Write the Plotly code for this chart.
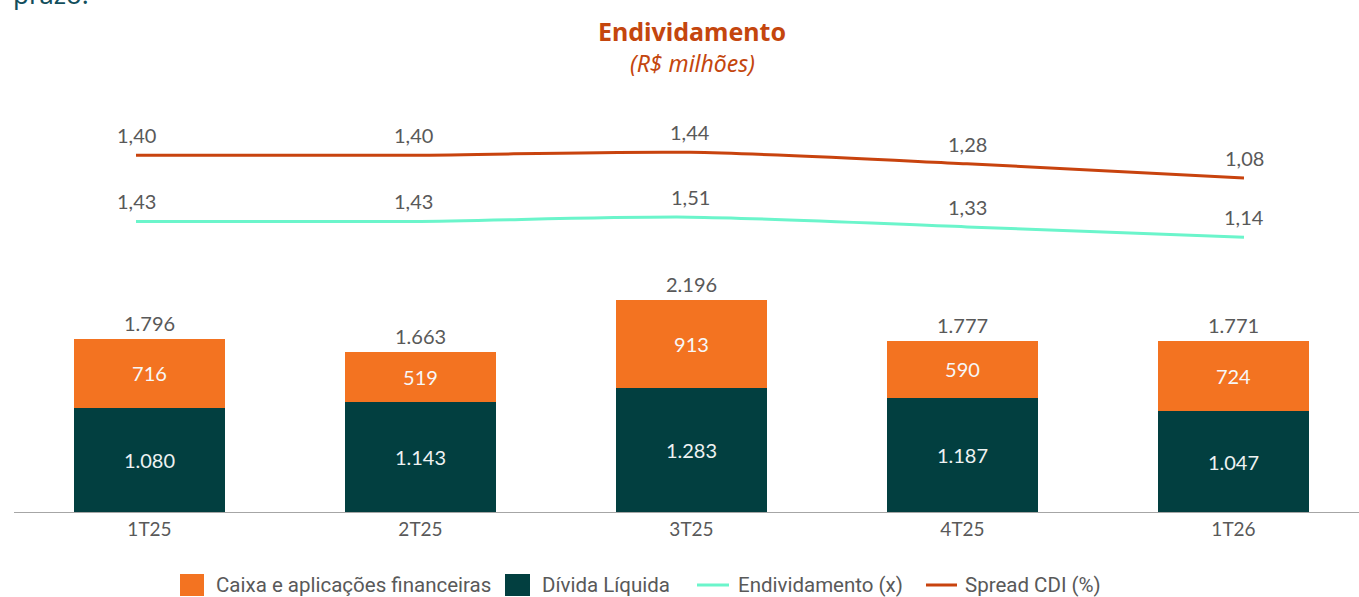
import plotly.graph_objects as go

# ---- data ----
categories = ["1T25", "2T25", "3T25", "4T25", "1T26"]
caixa = [716, 519, 913, 590, 724]
divida_liquida = [1080, 1143, 1283, 1187, 1047]
totais = [1796, 1663, 2196, 1777, 1771]
endividamento = [1.43, 1.43, 1.51, 1.33, 1.14]
spread_cdi = [1.40, 1.40, 1.44, 1.28, 1.08]

# ---- style ----
ORANGE = "#F37321"
DARK = "#023F40"
MINT = "#6BF5CB"
RUST = "#C8430E"
GRAY = "#595959"
LABEL_FONT = "Lato"
LEGEND_FONT = "Roboto"

W, H = 1359, 597
ML, MR, MT, MB = 14, 0, 90, 85
PW, PH = W - ML - MR, H - MT - MB


def px2x(px):
    return (px - ML) / PW


def px2y(py):
    return (H - MB - py) / PH


def fmt_thousands(v):
    return f"{v:,.0f}".replace(",", ".")


def fmt_dec(v):
    return f"{v:.2f}".replace(".", ",")


fig = go.Figure()

fig.add_trace(go.Bar(
    x=categories, y=divida_liquida, name="Dívida Líquida",
    marker=dict(color=DARK, line=dict(width=0)), width=0.557,
    texttemplate="%{y:,.0f}", textposition="inside", insidetextanchor="middle",
    textfont=dict(family=LABEL_FONT, size=20, color="#EEF2F2"),
    xaxis="x", yaxis="y", showlegend=False,
))
fig.add_trace(go.Bar(
    x=categories, y=caixa, name="Caixa e aplicações financeiras",
    marker=dict(color=ORANGE, line=dict(width=0)), width=0.557,
    texttemplate="%{y:,.0f}", textposition="inside", insidetextanchor="middle",
    textfont=dict(family=LABEL_FONT, size=20, color="#F7F7F7"),
    xaxis="x", yaxis="y", showlegend=False,
))
fig.add_trace(go.Scatter(
    x=categories, y=spread_cdi, name="Spread CDI (%)", mode="lines",
    line=dict(color=RUST, width=3, shape="spline", smoothing=0.8),
    xaxis="x2", yaxis="y2", showlegend=False,
))
fig.add_trace(go.Scatter(
    x=categories, y=endividamento, name="Endividamento (x)", mode="lines",
    line=dict(color=MINT, width=3, shape="spline", smoothing=0.8),
    xaxis="x2", yaxis="y3", showlegend=False,
))

label_font = dict(family=LABEL_FONT, size=20, color=GRAY)
annotations = []
for c, t in zip(categories, totais):
    annotations.append(dict(text=fmt_thousands(t), x=c, y=t, xref="x", yref="y",
                            xanchor="center", yanchor="middle", yshift=16,
                            showarrow=False, font=label_font))
for c, v in zip(categories, spread_cdi):
    annotations.append(dict(text=fmt_dec(v), x=c, y=v, xref="x2", yref="y2",
                            xanchor="center", yanchor="middle", yshift=20,
                            showarrow=False, font=label_font))
for c, v in zip(categories, endividamento):
    annotations.append(dict(text=fmt_dec(v), x=c, y=v, xref="x2", yref="y3",
                            xanchor="center", yanchor="middle", yshift=20,
                            showarrow=False, font=label_font))

annotations += [
    dict(text="<b>Endividamento</b>", x=px2x(692), y=px2y(31), xref="paper", yref="paper",
         xanchor="center", yanchor="middle", showarrow=False,
         font=dict(family="Noto Sans", size=25, color="#C4460E")),
    dict(text="<i>(R$ milhões)</i>", x=px2x(692), y=px2y(63), xref="paper", yref="paper",
         xanchor="center", yanchor="middle", showarrow=False,
         font=dict(family="Noto Sans", size=23, color="#C4460E")),
    dict(text="prazo.", x=px2x(11), y=px2y(14), xref="paper", yref="paper",
         xanchor="left", yanchor="bottom", showarrow=False,
         font=dict(family="Noto Sans", size=26, color="#124E5C")),
]

shapes = []
LEG_Y = 585
legend_items = [
    ("box", ORANGE, 180, 204, "Caixa e aplicações financeiras", 214),
    ("box", DARK, 505, 530, "Dívida Líquida", 540),
    ("line", MINT, 697, 729, "Endividamento (x)", 736),
    ("line", RUST, 926, 957, "Spread CDI (%)", 963),
]
for kind, color, x0, x1, label, tx in legend_items:
    if kind == "box":
        shapes.append(dict(type="rect", xref="paper", yref="paper",
                           x0=px2x(x0), x1=px2x(x1), y0=px2y(LEG_Y + 11), y1=px2y(LEG_Y - 11),
                           fillcolor=color, line=dict(width=0)))
    else:
        shapes.append(dict(type="line", xref="paper", yref="paper",
                           x0=px2x(x0), x1=px2x(x1), y0=px2y(LEG_Y), y1=px2y(LEG_Y),
                           line=dict(color=color, width=3)))
    annotations.append(dict(text=label, x=px2x(tx), y=px2y(LEG_Y), xref="paper", yref="paper",
                            xanchor="left", yanchor="middle", showarrow=False,
                            font=dict(family=LEGEND_FONT, size=20.5, color=GRAY)))

fig.update_layout(
    width=W, height=H,
    margin=dict(l=ML, r=MR, t=MT, b=MB),
    paper_bgcolor="white", plot_bgcolor="white",
    barmode="stack",
    separators=",.",
    showlegend=False,
    annotations=annotations,
    shapes=shapes,
    xaxis=dict(type="category", range=[-0.5, -0.5 + PW / 271], showgrid=False,
               showline=True, linecolor="#A6A6A6", linewidth=1, ticks="",
               tickfont=dict(family=LABEL_FONT, size=19, color=GRAY), zeroline=False),
    xaxis2=dict(type="category", overlaying="x", range=[-(136 - ML) / 277, -(136 - ML) / 277 + PW / 277],
                showgrid=False, showticklabels=False, showline=False, zeroline=False),
    yaxis=dict(range=[0, PH / (173 / 1796)], visible=False),
    yaxis2=dict(overlaying="y", range=[(254.6 - (H - MB)) / 71, (254.6 - MT) / 71], visible=False),
    yaxis3=dict(overlaying="y", range=[(298.7 - (H - MB)) / 54, (298.7 - MT) / 54], visible=False),
)

fig.write_html("out.html")
